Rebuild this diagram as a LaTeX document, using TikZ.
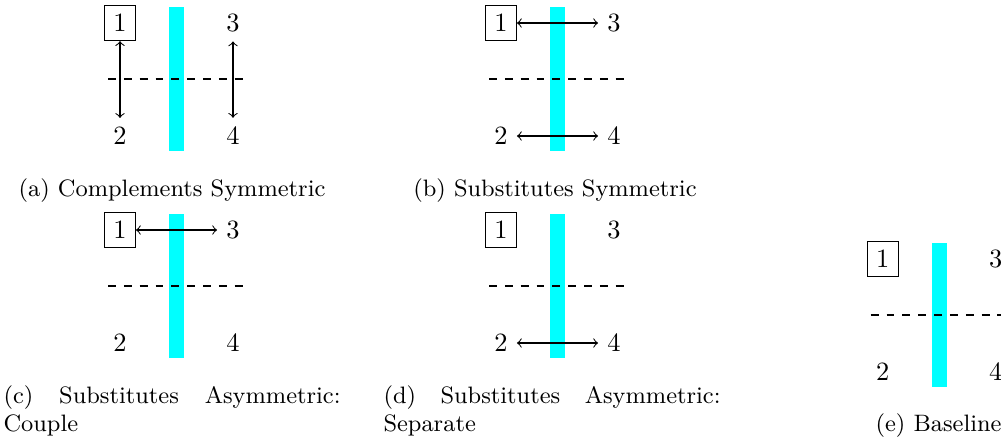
\documentclass[tikz,border=0pt]{standalone}
\definecolor{barcyan}{RGB}{0,255,255}
\newcommand\drawpanel[3]{%
  \begin{scope}[shift={(#2,#3)}]
    \fill[barfill] (49,-16) rectangle (64,128);
    \draw[divider] (-12,56) -- (125,56);
    \node[boxnode] (#1-1) at (0,0) {1};
    \node[numnode] (#1-3) at (113,0) {3};
    \node[numnode] (#1-2) at (0,113) {2};
    \node[numnode] (#1-4) at (113,113) {4};
  \end{scope}}
\begin{document}
\begin{tikzpicture}[x=0.3788pt,y=-0.3788pt,
  numnode/.style={inner sep=3.33pt},
  boxnode/.style={numnode,draw},
  barfill/.style={fill=barcyan,draw=none},
  divider/.style={dashed},
  link/.style={<->},
  captext/.style={font=\small,inner sep=0pt,anchor=base}]
\useasboundingbox (0,0) rectangle (1001,441);
\clip (0,0) rectangle (1001,441);
% (a)
\drawpanel{a}{120}{23}
\draw[link] (a-1) -- (a-2);
\draw[link] (a-3) -- (a-4);
\node[captext] (capa) at (172,196) {(a) Complements Symmetric};
% (b)
\drawpanel{b}{501}{23}
\draw[link] (b-1) -- (b-3);
\draw[link] (b-2) -- (b-4);
\node[captext] (capb) at (555,196) {(b) Substitutes Symmetric};
% (c)
\drawpanel{c}{120}{230}
\draw[link] (c-1) -- (c-3);
\node[captext,anchor=base west] (capc1) at (3,403) {\makebox[127.7pt][s]{(c) Substitutes Asymmetric:}};
\node[captext,anchor=base west] (capc2) at (3,431) {Couple};
% (d)
\drawpanel{d}{501}{230}
\draw[link] (d-2) -- (d-4);
\node[captext,anchor=base west] (capd1) at (383,403) {\makebox[127.7pt][s]{(d) Substitutes Asymmetric:}};
\node[captext,anchor=base west] (capd2) at (383,431) {Separate};
% (e)
\drawpanel{e}{882.7}{259}
\node[captext,anchor=base west] (cape) at (875,431) {(e) Baseline};
\end{tikzpicture}
\end{document}
